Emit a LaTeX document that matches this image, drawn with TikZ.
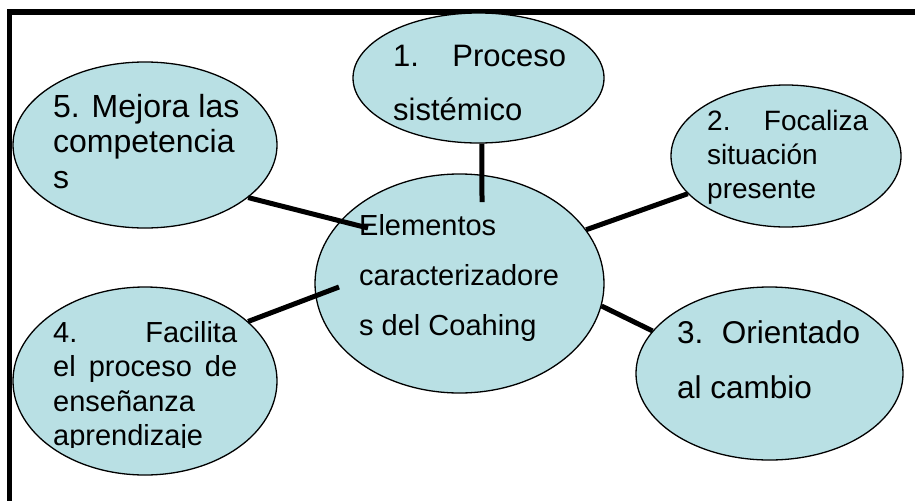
\documentclass[tikz,border=0pt]{standalone}
\usepackage{fontspec}
\setmainfont{Liberation Sans}
\usetikzlibrary{shapes.geometric}
\definecolor{bubble}{RGB}{185,224,228}

\begin{document}
\begin{tikzpicture}[x=1pt,y=-1pt,
	bub/.style={ellipse,draw,line width=1.3pt,fill=bubble,inner sep=0pt},
	link/.style={line width=5pt},
	txt/.style={anchor=base west,inner sep=0pt,align=flush left}]
	\useasboundingbox (0,0) rectangle (915,501);
	% marco
	\draw[line width=5.5pt] (915,12) -- (9.5,12) -- (9.5,501);

	% elipses
	\node[bub,minimum width=289pt,minimum height=219pt] (c) at (459.5,283.5) {};
	\node[bub,minimum width=251pt,minimum height=130pt] (m1) at (478.5,78) {};
	\node[bub,minimum width=230pt,minimum height=142pt] (m2) at (786,156) {};
	\node[bub,minimum width=267pt,minimum height=173pt] (m3) at (769.5,373.5) {};
	\node[bub,minimum width=264pt,minimum height=188pt] (m4) at (145,381) {};
	\node[bub,minimum width=264pt,minimum height=166pt] (m5) at (145,145) {};

	% extremos dentro del centro
	\coordinate (e1) at (482,202);
	\coordinate (e4) at (339,287);
	\coordinate (e5) at (368,228);

	% conectores
	\draw[link] (m1.-87) -- (e1);
	\draw[link] (c.23) -- (m2.201);
	\draw[link] (c.-9) -- (m3.160);
	\draw[link] (m4.30) -- (e4);
	\draw[link] (m5.-27) -- (e5);

	% textos
	\node[txt,text width=220pt,font=\fontsize{29}{50}\selectfont] (tc) at (359,235)
		{Elementos\\caracterizadore\\s del Coahing};
	\node[txt,text width=173pt,font=\fontsize{31}{54}\selectfont] (t1) at (393,66)
		{1.\hfill Proceso\\sistémico};
	\node[txt,text width=161pt,font=\fontsize{28}{34}\selectfont] (t2) at (707,130)
		{2.\hfill Focaliza\\situación\\presente};
	\node[txt,text width=183pt,font=\fontsize{31.5}{55}\selectfont] (t3) at (677,343)
		{3.\hfill Orientado\\al cambio};
	\begin{scope}
		\clip (0,0) rectangle (915,447);
		\node[txt,text width=184pt,font=\fontsize{29}{34.5}\selectfont] (t4) at (53,342)
			{4.\hfill Facilita\\el\hfill proceso\hfill de\\enseñanza\\aprendizaje};
	\end{scope}
	\node[txt,text width=200pt,font=\fontsize{32}{35.5}\selectfont] (t5) at (53,117)
		{5. Mejora las\\competencia\\s};
\end{tikzpicture}
\end{document}
